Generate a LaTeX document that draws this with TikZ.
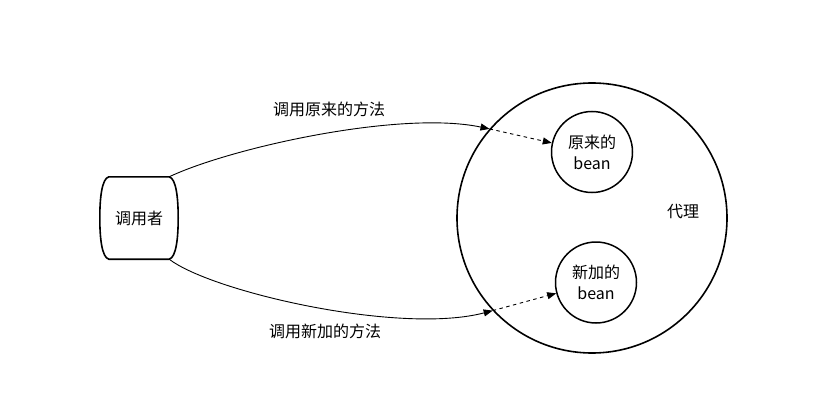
\documentclass[tikz,border=0pt]{standalone}
\usepackage{fontspec}
\setmainfont{Noto Sans CJK SC}
\usetikzlibrary{arrows.meta}

\tikzset{
    caller shape/.style={
      draw=black,
      line width=1.6pt
    },
    proxy circle/.style={
      circle, draw=black, line width=1.6pt,
      minimum size=270pt, inner sep=0pt
    },
    bean circle/.style={
      circle, draw=black, line width=1.5pt,
      minimum size=81pt, inner sep=0pt, align=center
    },
    call edge/.style={
      line width=0.9pt,
      -{Triangle[length=9pt,width=7pt]}
    },
    inner edge/.style={
      call edge,
      dash pattern=on 3.5pt off 3.5pt
    }
  }

\begin{document}
\begin{tikzpicture}[x=1pt, y=-1pt, font=\fontsize{16}{21}\selectfont]
      \useasboundingbox (0,0) rectangle (819,417);

      % 调用者
      \node[minimum width=78pt, minimum height=82pt, inner sep=0pt] (caller) at (139,218) {调用者};
      \draw[caller shape] ([xshift=-9pt]caller.north east)
        .. controls +(7,2) and +(0,-20) .. (caller.east)
        .. controls +(0,20) and +(7,-2) .. ([xshift=-9pt]caller.south east)
        -- ([xshift=9pt]caller.south west)
        .. controls +(-7,-2) and +(0,20) .. (caller.west)
        .. controls +(0,-20) and +(-7,2) .. ([xshift=9pt]caller.north west)
        -- cycle;

      % 代理
      \node[proxy circle] (proxy) at (592,218) {};
      \node (proxyLabel) at (683,212) {代理};
      \node[bean circle] (origBean) at (592,152) {原来的\\bean};
      \node[bean circle] (newBean) at (596,282.5) {新加的\\bean};

      % 调用
      \draw[call edge] ([xshift=-9pt]caller.north east) .. controls (230,148) and (400,110) .. (proxy.139);
      \draw[inner edge] (proxy.139) -- (origBean);
      \draw[call edge] ([xshift=-9pt]caller.south east) .. controls (212,292) and (400,335) .. (proxy.223);
      \draw[inner edge] (proxy.223) -- (newBean);

      % 标签
      \node (callOrig) at (329,109) {调用原来的方法};
      \node (callNew) at (325,331) {调用新加的方法};
    \end{tikzpicture}
\end{document}
